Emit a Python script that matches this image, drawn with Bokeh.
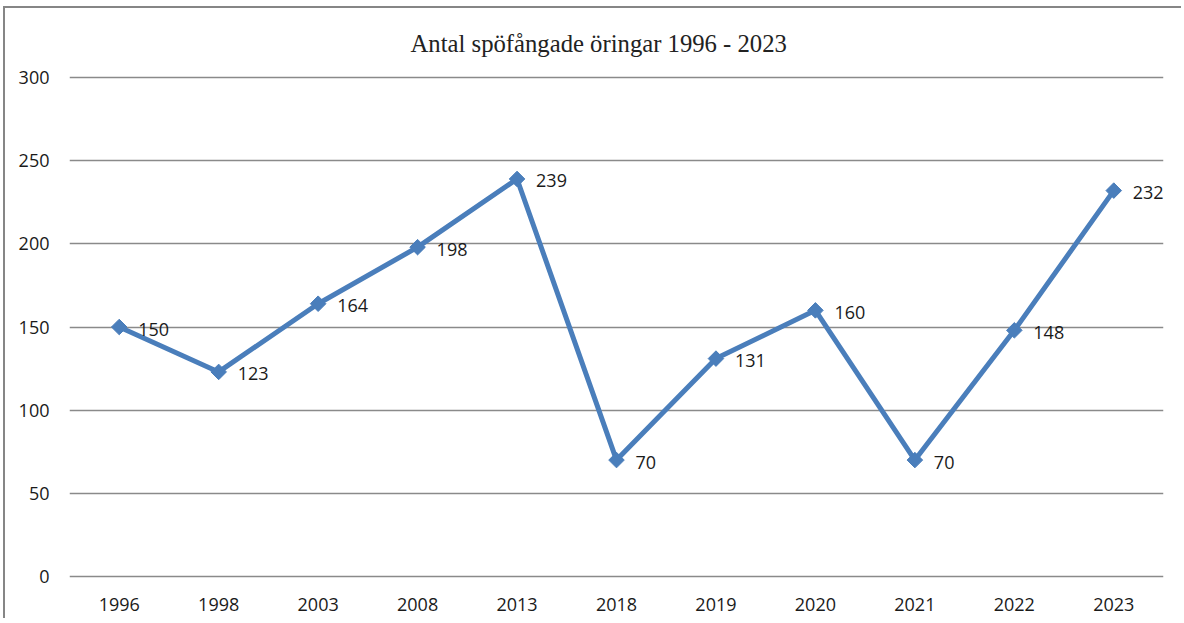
import math
from bokeh.plotting import figure
from bokeh.models import ColumnDataSource, Range1d, FixedTicker
from bokeh.embed import file_html
from bokeh.resources import INLINE
from bokeh.core.properties import value

years = ["1996", "1998", "2003", "2008", "2013", "2018", "2019", "2020", "2021", "2022", "2023"]
counts = [150, 123, 164, 198, 239, 70, 131, 160, 70, 148, 232]
y_ticks = [0, 50, 100, 150, 200, 250, 300]
title_text = "Antal spöfångade öringar 1996 - 2023"

src = ColumnDataSource(data=dict(x=years, y=counts, lab=[str(c) for c in counts]))

p = figure(x_range=years, y_range=Range1d(-1.2, 301.2), width=1178, height=612,
           output_backend="svg", toolbar_location=None,
           min_border_left=64, min_border_right=20, min_border_top=67, min_border_bottom=42)

p.title.text = title_text
p.title.align = "left"
p.title.offset = 341
p.title.vertical_align = "top"
p.title.text_font = "Liberation Serif"
p.title.text_font_size = "24.7px"
p.title.text_font_style = "normal"
p.title.text_color = "#222222"
p.title.standoff = 34

p.outline_line_color = None
p.background_fill_color = "white"
p.border_fill_color = "white"
p.styles = {"border-left": "2px solid #868686", "border-top": "2px solid #868686",
            "margin-left": "3px", "margin-top": "6px"}

p.xgrid.grid_line_color = None
p.ygrid.grid_line_color = "#8a8a8a"
p.ygrid.grid_line_width = 1.6
p.yaxis.ticker = FixedTicker(ticks=y_ticks)

for ax in (p.xaxis, p.yaxis):
    ax.axis_line_color = None
    ax.major_tick_line_color = None
    ax.minor_tick_line_color = None
    ax.major_label_text_font = "Open Sans"
    ax.major_label_text_font_size = "18px"
    ax.major_label_text_color = "#1a1a1a"
p.yaxis.major_label_standoff = 14
p.xaxis.major_label_standoff = 13

p.line("x", "y", source=src, line_color="#4a7ebb", line_width=5)
p.scatter("x", "y", source=src, marker="square", angle=math.pi / 4, size=11,
          fill_color="#4a7ebb", line_color="#4a7ebb")
p.text("x", "y", text="lab", source=src, x_offset=19, y_offset=2,
       text_font=value("Open Sans"), text_font_size="18px", text_color="#1a1a1a",
       text_baseline="middle", text_align="left")

open("out.html", "w").write(file_html(p, INLINE))
